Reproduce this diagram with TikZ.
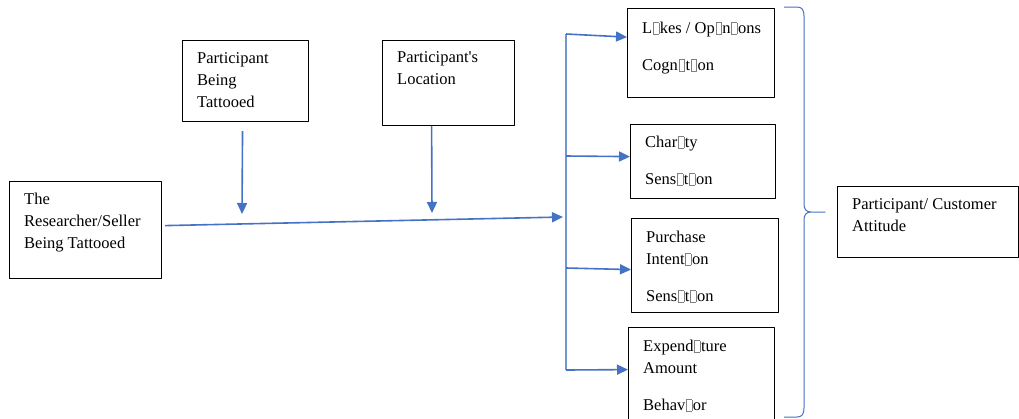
\documentclass[tikz,border=0pt]{standalone}
\usepackage{fontspec}
\setmainfont{Liberation Serif}
\usetikzlibrary{positioning,arrows.meta}
\definecolor{linkblue}{HTML}{4472C4}
\newcommand{\nogl}{{\kern0.8pt\color{gray}\setlength{\fboxsep}{0pt}\setlength{\fboxrule}{0.5pt}\fbox{\rule{0pt}{0.66em}\hspace{0.3em}}\kern0.8pt}}
\begin{document}
\begin{tikzpicture}[x=1pt,y=-1pt,>={Triangle[length=11pt,width=10pt]},line join=round,
  font=\fontsize{16.5}{22}\selectfont,
  box/.style={draw,line width=1.2pt,anchor=north west,inner sep=0pt},
  txt/.style={align=left,inner sep=0pt},
  link/.style={draw=linkblue,line width=1.6pt,->},
  trunk/.style={draw=linkblue!75,line width=1.3pt},
  brace/.style={draw=linkblue,line width=1pt}]
\useasboundingbox (0,0) rectangle (1019,418);
% boxes
\node[box,minimum width=152pt,minimum height=97pt] (res) at (9,181) {};
\node[box,minimum width=126pt,minimum height=81pt] (tat) at (182,40) {};
\node[box,minimum width=132pt,minimum height=85pt] (loc) at (382,40) {};
\node[box,minimum width=147pt,minimum height=89pt] (likes) at (627,8) {};
\node[box,minimum width=145pt,minimum height=74pt] (char) at (630,124) {};
\node[box,minimum width=147pt,minimum height=94pt] (purch) at (631,218) {};
\node[box,minimum width=146pt,minimum height=100pt] (expd) at (628,327) {};
\node[box,minimum width=181pt,minimum height=71pt] (att) at (837,186) {};
% texts
\node[txt,below right=12pt and 15pt of res.north west] (res-t) {The\\Researcher/Seller\\Being Tattooed};
\node[txt,below right=12pt and 15pt of tat.north west] (tat-t) {Participant\\Being\\Tattooed};
\node[txt,below right=11pt and 15pt of loc.north west] (loc-t) {Participant\textquotesingle s\\Location};
\node[txt,below right=14pt and 15pt of likes.north west] (likes-t) {L\nogl kes / Op\nogl n\nogl ons\\[15pt]Cogn\nogl t\nogl on};
\node[txt,below right=12pt and 15pt of char.north west] (char-t) {Char\nogl ty\\[15pt]Sens\nogl t\nogl on};
\node[txt,below right=13pt and 15pt of purch.north west] (purch-t) {Purchase\\Intent\nogl on\\[15pt]Sens\nogl t\nogl on};
\node[txt,below right=13pt and 15pt of expd.north west] (expd-t) {Expend\nogl ture\\Amount\\[15pt]Behav\nogl or};
\node[txt,below right=12pt and 15pt of att.north west] (att-t) {Participant/ Customer\\Attitude};
% connectors
\coordinate (hub) at (563,217);
\coordinate (m1) at (242,214);
\coordinate (m2) at (432,213);
\draw[link] ([xshift=3pt,yshift=4.5pt]res.east) -- (hub);
\draw[link,shorten <=9pt] ([xshift=-3pt]tat.south) -- (m1);
\draw[link] ([xshift=-17pt]loc.south) -- (m2);
\coordinate (tr-a) at (566,34);
\coordinate (tr-c) at (566,156);
\coordinate (tr-d) at (566,268);
\coordinate (tr-b) at (566,370);
\draw[trunk] (tr-a) -- (tr-b);
\draw[link] (tr-a) -- ([yshift=16pt]likes.west);
\draw[link] (tr-c) -- ([yshift=5pt]char.west);
\draw[link] (tr-d) -- ([yshift=-4pt]purch.west);
\draw[link] (tr-b) -- ([yshift=8pt]expd.west);
% brace
\draw[brace] (784,7) -- (797,7) .. controls (802,7) and (804,10) .. (804,16) -- (804,204)
  .. controls (804,209) and (806,212) .. (811,212) -- (825,212) -- (811,212)
  .. controls (806,212) and (804,215) .. (804,220) -- (804,408)
  .. controls (804,414) and (802,417) .. (797,417) -- (784,417);
\end{tikzpicture}
\end{document}
